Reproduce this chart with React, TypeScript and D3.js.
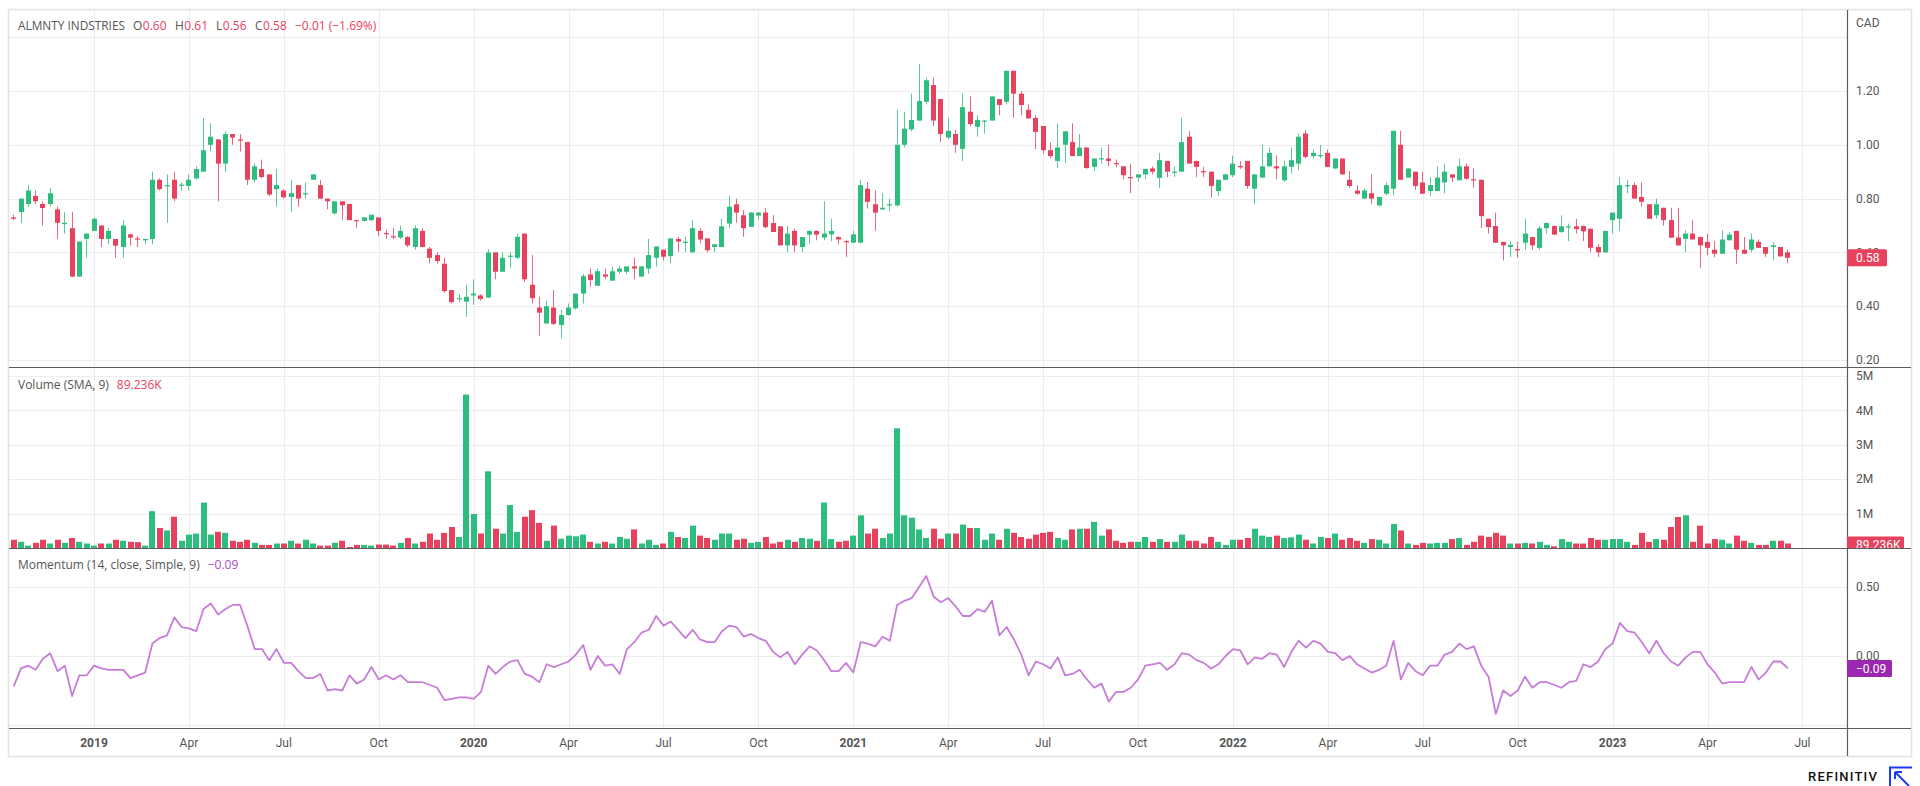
import React, { useEffect, useRef } from 'react';
import * as d3 from 'd3';

// weekly bars, Monday 2018-10-15 onward
const firstWeek = new Date(2018, 9, 15);

const opens = [
  0.73, 0.75, 0.78, 0.81, 0.78, 0.78, 0.76, 0.705, 0.69, 0.51,
  0.65, 0.68, 0.70, 0.65, 0.65, 0.62, 0.667, 0.652, 0.645, 0.65,
  0.87, 0.847, 0.87, 0.848, 0.847, 0.875, 0.90, 1.00, 1.02, 0.93,
  1.04, 1.02, 1.01, 0.87, 0.91, 0.89, 0.835, 0.83, 0.806, 0.85,
  0.817, 0.87, 0.85, 0.80, 0.745, 0.79, 0.78, 0.72, 0.717, 0.72,
  0.73, 0.672, 0.66, 0.655, 0.657, 0.62, 0.68, 0.614, 0.59, 0.558,
  0.46, 0.428, 0.417, 0.44, 0.44, 0.432, 0.60, 0.528, 0.585, 0.58,
  0.67, 0.48, 0.395, 0.336, 0.395, 0.33, 0.367, 0.392, 0.447, 0.518,
  0.476, 0.518, 0.495, 0.528, 0.528, 0.548, 0.51, 0.54, 0.58, 0.61,
  0.586, 0.65, 0.638, 0.60, 0.68, 0.652, 0.62, 0.62, 0.707, 0.779,
  0.738, 0.695, 0.737, 0.748, 0.709, 0.697, 0.626, 0.68, 0.62, 0.666,
  0.68, 0.655, 0.667, 0.657, 0.642, 0.636, 0.636, 0.837, 0.779, 0.76,
  0.776, 0.775, 1.00, 1.057, 1.09, 1.16, 1.222, 1.17, 1.027, 1.04,
  0.985, 1.123, 1.067, 1.088, 1.09, 1.17, 1.16, 1.275, 1.19, 1.13,
  1.10, 1.07, 0.98, 0.94, 1.00, 1.01, 0.958, 0.99, 0.918, 0.948,
  0.949, 0.932, 0.92, 0.88, 0.878, 0.89, 0.912, 0.877, 0.94, 0.898,
  0.90, 1.03, 0.94, 0.902, 0.90, 0.828, 0.87, 0.887, 0.921, 0.94,
  0.837, 0.878, 0.92, 0.92, 0.868, 0.918, 0.93, 1.042, 0.958, 0.958,
  0.97, 0.912, 0.949, 0.87, 0.83, 0.80, 0.82, 0.775, 0.818, 0.837,
  1.00, 0.878, 0.90, 0.86, 0.828, 0.828, 0.86, 0.89, 0.868, 0.92,
  0.872, 0.87, 0.725, 0.698, 0.639, 0.62, 0.612, 0.636, 0.657, 0.617,
  0.69, 0.698, 0.676, 0.694, 0.697, 0.698, 0.688, 0.62, 0.60, 0.72,
  0.725, 0.848, 0.85, 0.806, 0.779, 0.738, 0.766, 0.72, 0.655, 0.65,
  0.67, 0.657, 0.639, 0.61, 0.595, 0.645, 0.68, 0.61, 0.61, 0.639,
  0.62, 0.62, 0.62, 0.60,
];

const highs = [
  0.74, 0.80, 0.85, 0.83, 0.79, 0.84, 0.77, 0.75, 0.75, 0.64,
  0.67, 0.73, 0.70, 0.69, 0.65, 0.72, 0.67, 0.66, 0.65, 0.90,
  0.875, 0.89, 0.90, 0.86, 0.89, 0.92, 1.10, 1.08, 1.02, 1.05,
  1.04, 1.04, 1.01, 0.93, 0.945, 0.89, 0.91, 0.835, 0.87, 0.85,
  0.86, 0.89, 0.87, 0.80, 0.79, 0.79, 0.78, 0.72, 0.73, 0.74,
  0.73, 0.685, 0.69, 0.70, 0.66, 0.70, 0.69, 0.62, 0.60, 0.58,
  0.46, 0.445, 0.48, 0.50, 0.445, 0.612, 0.60, 0.60, 0.60, 0.67,
  0.67, 0.59, 0.435, 0.42, 0.46, 0.386, 0.41, 0.447, 0.52, 0.54,
  0.54, 0.54, 0.547, 0.55, 0.548, 0.58, 0.548, 0.65, 0.622, 0.61,
  0.652, 0.658, 0.658, 0.72, 0.69, 0.652, 0.63, 0.726, 0.81, 0.80,
  0.757, 0.75, 0.75, 0.766, 0.738, 0.697, 0.698, 0.688, 0.657, 0.682,
  0.682, 0.79, 0.725, 0.66, 0.645, 0.68, 0.87, 0.862, 0.83, 0.82,
  0.80, 1.13, 1.123, 1.19, 1.30, 1.25, 1.25, 1.17, 1.10, 1.055,
  1.19, 1.18, 1.11, 1.092, 1.18, 1.17, 1.275, 1.275, 1.20, 1.15,
  1.11, 1.07, 1.01, 1.08, 1.05, 1.08, 1.04, 0.99, 0.95, 0.99,
  1.00, 0.945, 0.92, 0.93, 0.89, 0.91, 0.92, 0.97, 0.94, 0.92,
  1.10, 1.05, 0.94, 0.918, 0.90, 0.87, 0.89, 0.96, 0.94, 0.94,
  0.89, 1.00, 0.99, 0.96, 0.94, 0.99, 1.042, 1.055, 0.983, 1.00,
  0.983, 0.949, 0.949, 0.903, 0.85, 0.837, 0.89, 0.806, 0.86, 1.052,
  1.052, 0.912, 0.90, 0.90, 0.88, 0.92, 0.93, 0.89, 0.949, 0.93,
  0.912, 0.87, 0.725, 0.748, 0.64, 0.642, 0.64, 0.725, 0.657, 0.698,
  0.712, 0.70, 0.738, 0.707, 0.725, 0.70, 0.688, 0.63, 0.68, 0.748,
  0.88, 0.87, 0.86, 0.86, 0.779, 0.80, 0.766, 0.766, 0.766, 0.682,
  0.72, 0.657, 0.67, 0.642, 0.682, 0.676, 0.68, 0.657, 0.67, 0.648,
  0.62, 0.638, 0.62, 0.61,
];

const lows = [
  0.72, 0.71, 0.77, 0.78, 0.70, 0.77, 0.65, 0.67, 0.51, 0.51,
  0.58, 0.68, 0.62, 0.63, 0.58, 0.58, 0.625, 0.62, 0.63, 0.63,
  0.83, 0.71, 0.79, 0.83, 0.83, 0.87, 0.90, 0.975, 0.79, 0.90,
  1.00, 0.975, 0.85, 0.86, 0.875, 0.81, 0.77, 0.80, 0.75, 0.77,
  0.80, 0.87, 0.80, 0.76, 0.74, 0.72, 0.72, 0.69, 0.715, 0.715,
  0.66, 0.65, 0.65, 0.65, 0.62, 0.61, 0.62, 0.56, 0.558, 0.45,
  0.41, 0.415, 0.36, 0.405, 0.42, 0.43, 0.50, 0.528, 0.543, 0.575,
  0.49, 0.41, 0.29, 0.333, 0.33, 0.28, 0.365, 0.388, 0.41, 0.472,
  0.476, 0.50, 0.495, 0.52, 0.52, 0.50, 0.51, 0.52, 0.547, 0.57,
  0.56, 0.602, 0.60, 0.60, 0.633, 0.60, 0.60, 0.62, 0.69, 0.71,
  0.658, 0.695, 0.72, 0.69, 0.676, 0.626, 0.60, 0.60, 0.60, 0.632,
  0.645, 0.645, 0.642, 0.63, 0.583, 0.636, 0.636, 0.763, 0.68, 0.758,
  0.753, 0.77, 0.99, 1.05, 1.09, 1.15, 1.07, 1.01, 1.02, 0.97,
  0.94, 1.07, 1.03, 1.042, 1.09, 1.11, 1.15, 1.10, 1.11, 1.098,
  0.984, 0.967, 0.95, 0.914, 0.933, 0.958, 0.958, 0.91, 0.903, 0.93,
  0.92, 0.917, 0.872, 0.82, 0.862, 0.872, 0.89, 0.84, 0.88, 0.88,
  0.90, 0.93, 0.88, 0.88, 0.804, 0.81, 0.868, 0.88, 0.91, 0.837,
  0.78, 0.878, 0.92, 0.872, 0.862, 0.893, 0.906, 0.95, 0.95, 0.95,
  0.918, 0.91, 0.89, 0.84, 0.815, 0.80, 0.78, 0.77, 0.812, 0.812,
  0.87, 0.878, 0.833, 0.818, 0.81, 0.828, 0.82, 0.862, 0.868, 0.87,
  0.84, 0.69, 0.67, 0.636, 0.57, 0.583, 0.58, 0.61, 0.61, 0.61,
  0.67, 0.666, 0.672, 0.642, 0.67, 0.642, 0.60, 0.583, 0.60, 0.67,
  0.68, 0.82, 0.80, 0.77, 0.725, 0.725, 0.70, 0.655, 0.626, 0.60,
  0.648, 0.543, 0.59, 0.582, 0.595, 0.645, 0.557, 0.595, 0.60, 0.617,
  0.583, 0.57, 0.585, 0.56,
];

const closes = [
  0.725, 0.80, 0.83, 0.79, 0.765, 0.82, 0.71, 0.71, 0.51, 0.64,
  0.67, 0.725, 0.65, 0.68, 0.625, 0.70, 0.655, 0.648, 0.65, 0.87,
  0.835, 0.85, 0.80, 0.852, 0.87, 0.91, 0.98, 1.03, 0.93, 1.04,
  1.027, 1.017, 0.87, 0.92, 0.88, 0.815, 0.85, 0.805, 0.82, 0.80,
  0.82, 0.89, 0.80, 0.79, 0.79, 0.775, 0.72, 0.717, 0.73, 0.74,
  0.68, 0.668, 0.657, 0.68, 0.626, 0.69, 0.62, 0.58, 0.568, 0.456,
  0.415, 0.43, 0.435, 0.447, 0.427, 0.60, 0.528, 0.58, 0.588, 0.658,
  0.50, 0.43, 0.376, 0.40, 0.334, 0.367, 0.395, 0.447, 0.512, 0.497,
  0.53, 0.51, 0.53, 0.54, 0.548, 0.54, 0.548, 0.59, 0.622, 0.584,
  0.652, 0.64, 0.64, 0.69, 0.648, 0.608, 0.63, 0.697, 0.77, 0.748,
  0.69, 0.748, 0.748, 0.694, 0.676, 0.626, 0.67, 0.626, 0.657, 0.68,
  0.666, 0.67, 0.68, 0.648, 0.638, 0.667, 0.85, 0.788, 0.748, 0.766,
  0.779, 1.00, 1.06, 1.092, 1.163, 1.24, 1.09, 1.04, 1.052, 1.00,
  1.14, 1.077, 1.092, 1.09, 1.18, 1.148, 1.275, 1.19, 1.148, 1.098,
  1.048, 0.98, 0.958, 0.99, 1.05, 0.958, 0.99, 0.914, 0.949, 0.95,
  0.94, 0.928, 0.887, 0.877, 0.89, 0.91, 0.90, 0.943, 0.90, 0.90,
  1.01, 0.93, 0.918, 0.898, 0.847, 0.87, 0.89, 0.93, 0.918, 0.847,
  0.89, 0.92, 0.97, 0.912, 0.92, 0.943, 1.03, 0.955, 0.97, 0.962,
  0.918, 0.949, 0.89, 0.847, 0.818, 0.83, 0.80, 0.806, 0.85, 1.052,
  0.87, 0.912, 0.847, 0.818, 0.85, 0.878, 0.90, 0.878, 0.92, 0.874,
  0.868, 0.735, 0.694, 0.636, 0.626, 0.628, 0.608, 0.67, 0.626, 0.69,
  0.709, 0.666, 0.697, 0.697, 0.687, 0.678, 0.617, 0.60, 0.68, 0.748,
  0.85, 0.85, 0.80, 0.788, 0.725, 0.779, 0.72, 0.655, 0.626, 0.67,
  0.648, 0.626, 0.617, 0.595, 0.648, 0.666, 0.61, 0.595, 0.648, 0.617,
  0.595, 0.626, 0.585, 0.58,
];

// weekly volume, millions of shares
const volumes = [
  0.24, 0.18, 0.07, 0.15, 0.24, 0.13, 0.24, 0.15, 0.29, 0.18,
  0.13, 0.07, 0.13, 0.13, 0.24, 0.21, 0.18, 0.17, 0.07, 1.07,
  0.58, 0.51, 0.91, 0.21, 0.39, 0.42, 1.32, 0.39, 0.47, 0.44,
  0.21, 0.18, 0.24, 0.15, 0.09, 0.09, 0.13, 0.13, 0.21, 0.13,
  0.24, 0.13, 0.07, 0.07, 0.15, 0.21, 0.03, 0.09, 0.09, 0.07,
  0.10, 0.10, 0.07, 0.15, 0.29, 0.13, 0.18, 0.42, 0.24, 0.44,
  0.61, 0.32, 4.46, 0.99, 0.42, 2.23, 0.56, 0.42, 1.25, 0.47,
  0.91, 1.10, 0.73, 0.21, 0.65, 0.27, 0.36, 0.34, 0.39, 0.18,
  0.13, 0.18, 0.13, 0.32, 0.27, 0.54, 0.13, 0.24, 0.09, 0.13,
  0.47, 0.32, 0.29, 0.65, 0.36, 0.29, 0.24, 0.42, 0.42, 0.24,
  0.27, 0.15, 0.18, 0.32, 0.13, 0.18, 0.24, 0.18, 0.29, 0.27,
  0.21, 1.32, 0.26, 0.18, 0.21, 0.36, 0.95, 0.42, 0.56, 0.29,
  0.42, 3.48, 0.95, 0.88, 0.54, 0.29, 0.56, 0.27, 0.42, 0.42,
  0.68, 0.58, 0.58, 0.24, 0.42, 0.24, 0.56, 0.44, 0.32, 0.27,
  0.39, 0.44, 0.47, 0.29, 0.24, 0.54, 0.56, 0.56, 0.76, 0.36,
  0.54, 0.21, 0.15, 0.18, 0.18, 0.32, 0.18, 0.26, 0.18, 0.18,
  0.39, 0.21, 0.21, 0.13, 0.32, 0.18, 0.09, 0.24, 0.24, 0.29,
  0.56, 0.36, 0.32, 0.36, 0.29, 0.31, 0.39, 0.24, 0.13, 0.32,
  0.29, 0.42, 0.24, 0.29, 0.21, 0.15, 0.26, 0.24, 0.13, 0.70,
  0.51, 0.13, 0.09, 0.15, 0.13, 0.15, 0.15, 0.26, 0.29, 0.09,
  0.18, 0.36, 0.32, 0.44, 0.36, 0.13, 0.13, 0.15, 0.13, 0.18,
  0.09, 0.05, 0.26, 0.18, 0.13, 0.13, 0.29, 0.24, 0.24, 0.26,
  0.26, 0.18, 0.09, 0.44, 0.18, 0.26, 0.24, 0.61, 0.90, 0.95,
  0.18, 0.65, 0.13, 0.26, 0.24, 0.13, 0.36, 0.21, 0.15, 0.09,
  0.09, 0.21, 0.21, 0.13,
];

const momentum = [
  -0.22, -0.09, -0.07, -0.10, -0.02, 0.02, -0.11, -0.07, -0.29, -0.14,
  -0.14, -0.07, -0.09, -0.10, -0.10, -0.10, -0.16, -0.14, -0.12, 0.09,
  0.13, 0.15, 0.28, 0.21, 0.20, 0.18, 0.34, 0.38, 0.30, 0.34,
  0.37, 0.37, 0.22, 0.05, 0.05, -0.03, 0.05, -0.05, -0.05, -0.11,
  -0.16, -0.16, -0.13, -0.25, -0.24, -0.25, -0.14, -0.20, -0.17, -0.08,
  -0.17, -0.14, -0.17, -0.14, -0.19, -0.19, -0.19, -0.21, -0.23, -0.32,
  -0.31, -0.30, -0.30, -0.31, -0.26, -0.07, -0.13, -0.08, -0.04, -0.03,
  -0.13, -0.15, -0.19, -0.06, -0.08, -0.06, -0.04, 0.01, 0.08, -0.10,
  0.00, -0.07, -0.06, -0.13, 0.05, 0.10, 0.17, 0.19, 0.29, 0.22,
  0.25, 0.19, 0.13, 0.19, 0.12, 0.10, 0.10, 0.18, 0.22, 0.21,
  0.14, 0.16, 0.13, 0.11, 0.03, -0.01, 0.03, -0.06, 0.01, 0.07,
  0.04, -0.03, -0.11, -0.11, -0.05, -0.12, 0.10, 0.09, 0.07, 0.14,
  0.11, 0.37, 0.40, 0.42, 0.50, 0.58, 0.43, 0.39, 0.42, 0.36,
  0.29, 0.29, 0.34, 0.32, 0.40, 0.15, 0.21, 0.12, 0.01, -0.14,
  -0.04, -0.06, -0.09, -0.01, -0.14, -0.13, -0.10, -0.17, -0.23, -0.20,
  -0.33, -0.26, -0.26, -0.23, -0.17, -0.07, -0.06, -0.05, -0.10, -0.06,
  0.02, 0.01, -0.03, -0.05, -0.09, -0.06, 0.00, 0.05, 0.04, -0.06,
  -0.01, -0.02, 0.02, 0.01, -0.08, 0.03, 0.11, 0.06, 0.11, 0.09,
  0.03, 0.02, -0.03, 0.00, -0.06, -0.09, -0.12, -0.10, -0.07, 0.11,
  -0.17, -0.05, -0.11, -0.14, -0.07, -0.07, 0.01, 0.03, 0.09, 0.05,
  0.07, -0.07, -0.15, -0.42, -0.25, -0.29, -0.25, -0.15, -0.23, -0.19,
  -0.19, -0.21, -0.23, -0.19, -0.18, -0.06, -0.08, -0.04, 0.05, 0.09,
  0.24, 0.18, 0.17, 0.10, 0.02, 0.11, 0.02, -0.04, -0.07, -0.01,
  0.03, 0.03, -0.06, -0.12, -0.20, -0.19, -0.19, -0.19, -0.08, -0.17,
  -0.12, -0.04, -0.04, -0.09,
];

const priceTicks = [0.2, 0.4, 0.6, 0.8, 1.0, 1.2];
const priceGrid = [0.2, 0.4, 0.6, 0.8, 1.0, 1.2, 1.4];
const volumeTicks = [1, 2, 3, 4, 5];
const momentumTicks = [0.5, 0];
const momentumGrid = [0.5, 0, -0.5];

const UP = '#2dbd7e';
const DOWN = '#e8415e';
const MOM = '#c77dd8';
const MOM_BOX = '#9c27b0';
const GRID = '#ededed';
const SEP = '#5d5d5d';
const TEXT = '#555';
const FONT = 'Roboto, "Open Sans", sans-serif';
const LEGEND_FONT = '"Open Sans", Roboto, sans-serif';

const App: React.FC = () => {
  const svgRef = useRef<SVGSVGElement>(null);

  useEffect(() => {
    if (!svgRef.current) return;
    const W = 1920;
    const H = 786;
    const left = 9;
    const right = 1847;
    const frameRight = 1911;
    const top = 10;
    const priceBottom = 367;
    const volTop = 368;
    const volBottom = 548;
    const momTop = 549;
    const momBottom = 728;
    const axisBottom = 756;

    const svg = d3.select(svgRef.current);
    svg.selectAll('*').remove();
    svg.attr('width', W).attr('height', H).style('font-family', FONT);

    svg.append('rect').attr('width', W).attr('height', H).attr('fill', '#fff');

    const n = opens.length;
    const weeks = d3.timeMonday.range(firstWeek, d3.timeMonday.offset(firstWeek, n));

    // bar index scale (bars are evenly spaced like on a trading chart)
    const x = d3.scaleLinear().domain([-0.644, 251.1]).range([left, right]);
    const yPrice = d3.scaleLinear().domain([0.2, 1.4]).range([360, 37.2]);
    const yVol = d3.scaleLinear().domain([0, 5]).range([volBottom, 376]);
    const yMom = d3.scaleLinear().domain([-0.5, 0.5]).range([725, 587]);

    const quarters = d3.timeMonth.every(3)!.range(new Date(2019, 0, 1), new Date(2023, 7, 1));
    const qIndex = quarters.map((q) => d3.timeMonday.count(firstWeek, d3.timeMonday.floor(q)));

    const defs = svg.append('defs');
    const clip = (id: string, y0: number, y1: number) =>
      defs.append('clipPath').attr('id', id).append('rect')
        .attr('x', left).attr('y', y0).attr('width', right - left).attr('height', y1 - y0);
    clip('clip-price', top, priceBottom);
    clip('clip-vol', volTop, volBottom);
    clip('clip-mom', momTop, momBottom);
    defs.append('clipPath').attr('id', 'clip-volaxis').append('rect')
      .attr('x', right).attr('y', volTop).attr('width', frameRight - right).attr('height', volBottom - volTop);

    // grid
    const grid = svg.append('g').attr('stroke', GRID).attr('stroke-width', 1);
    qIndex.forEach((qi) => {
      const gx = Math.round(x(qi)) + 0.5;
      grid.append('line').attr('x1', gx).attr('x2', gx).attr('y1', top).attr('y2', momBottom);
    });
    priceGrid.forEach((p) => {
      const gy = Math.round(yPrice(p)) + 0.5;
      grid.append('line').attr('x1', left).attr('x2', right).attr('y1', gy).attr('y2', gy);
    });
    volumeTicks.forEach((v) => {
      const gy = Math.round(yVol(v)) + 0.5;
      grid.append('line').attr('x1', left).attr('x2', right).attr('y1', gy).attr('y2', gy);
    });
    momentumGrid.forEach((m) => {
      const gy = Math.round(yMom(m)) + 0.5;
      grid.append('line').attr('x1', left).attr('x2', right).attr('y1', gy).attr('y2', gy);
    });

    // candles
    const candles = svg.append('g').attr('clip-path', 'url(#clip-price)');
    weeks.forEach((_, i) => {
      const o = opens[i], h = highs[i], l = lows[i], c = closes[i];
      const col = c >= o ? UP : DOWN;
      const bx = Math.round(x(i) - 2.5);
      candles.append('line')
        .attr('x1', bx + 2.5).attr('x2', bx + 2.5)
        .attr('y1', yPrice(h)).attr('y2', yPrice(l))
        .attr('stroke', col).attr('stroke-width', 1).attr('opacity', 0.8);
      const y0 = yPrice(Math.max(o, c));
      const y1 = yPrice(Math.min(o, c));
      candles.append('rect')
        .attr('x', bx).attr('width', 5)
        .attr('y', y0).attr('height', Math.max(1.2, y1 - y0))
        .attr('fill', col);
    });

    // volume
    const vol = svg.append('g').attr('clip-path', 'url(#clip-vol)');
    volumes.forEach((v, i) => {
      const col = closes[i] >= opens[i] ? UP : DOWN;
      const bx = Math.round(x(i) - 3);
      vol.append('rect')
        .attr('x', bx).attr('width', 6)
        .attr('y', yVol(v)).attr('height', volBottom - yVol(v))
        .attr('fill', col);
    });

    // momentum
    const line = d3.line<number>().x((_, i) => x(i)).y((d) => yMom(d));
    svg.append('g').attr('clip-path', 'url(#clip-mom)')
      .append('path').datum(momentum)
      .attr('d', line)
      .attr('fill', 'none').attr('stroke', MOM).attr('stroke-width', 1.8)
      .attr('stroke-linejoin', 'round');

    // frame and separators
    svg.append('rect')
      .attr('x', left - 0.5).attr('y', top - 0.5)
      .attr('width', frameRight - left + 1).attr('height', axisBottom - top + 1)
      .attr('fill', 'none').attr('stroke', '#e3e3e3').attr('stroke-width', 1.5);
    const sep = svg.append('g').attr('stroke', SEP).attr('stroke-width', 1.2);
    [priceBottom, volBottom, momBottom].forEach((sy) => {
      sep.append('line').attr('x1', left).attr('x2', frameRight).attr('y1', sy + 0.5).attr('y2', sy + 0.5);
    });
    sep.append('line').attr('x1', right + 0.5).attr('x2', right + 0.5).attr('y1', top).attr('y2', axisBottom);

    // right axis labels
    const axis = svg.append('g').attr('fill', TEXT).attr('font-size', 12);
    const lx = 1856;
    axis.append('text').attr('x', lx).attr('y', 23).attr('dy', '0.35em').text('CAD');
    priceTicks.forEach((p) => {
      axis.append('text').attr('x', lx).attr('y', yPrice(p)).attr('dy', '0.35em').text(d3.format('.2f')(p));
    });
    volumeTicks.forEach((v) => {
      axis.append('text').attr('x', lx).attr('y', yVol(v)).attr('dy', '0.35em').text(`${v}M`);
    });
    momentumTicks.forEach((m) => {
      axis.append('text').attr('x', lx).attr('y', yMom(m)).attr('dy', '0.35em').text(d3.format('.2f')(m));
    });

    // last value boxes
    const last = n - 1;
    const lastClose = closes[last];
    const pY = yPrice(lastClose);
    svg.append('rect').attr('x', right).attr('y', pY - 8.5).attr('width', 40).attr('height', 17)
      .attr('rx', 1.5).attr('fill', DOWN);
    svg.append('text').attr('x', lx).attr('y', pY).attr('dy', '0.35em')
      .attr('fill', '#fff').attr('font-size', 12).text(d3.format('.2f')(lastClose));

    const smaVol = 0.089236;
    const vY = yVol(smaVol);
    const vg = svg.append('g').attr('clip-path', 'url(#clip-volaxis)');
    vg.append('rect').attr('x', right).attr('y', vY - 8.5).attr('width', 57).attr('height', 17)
      .attr('rx', 1.5).attr('fill', DOWN);
    vg.append('text').attr('x', lx).attr('y', vY).attr('dy', '0.35em')
      .attr('fill', '#fff').attr('font-size', 12).text('89.236K');

    const lastMom = momentum[last];
    const mY = yMom(lastMom);
    svg.append('rect').attr('x', right).attr('y', mY - 8.5).attr('width', 45).attr('height', 17)
      .attr('rx', 1.5).attr('fill', MOM_BOX);
    svg.append('text').attr('x', lx).attr('y', mY).attr('dy', '0.35em')
      .attr('fill', '#fff').attr('font-size', 12).text(`\u2212${d3.format('.2f')(-lastMom)}`);

    // time axis
    const timeAxis = svg.append('g').attr('fill', TEXT).attr('font-size', 12).attr('text-anchor', 'middle');
    quarters.forEach((q, k) => {
      const isYear = q.getMonth() === 0;
      timeAxis.append('text')
        .attr('x', x(qIndex[k])).attr('y', 743).attr('dy', '0.35em')
        .attr('font-weight', isYear ? 'bold' : 'normal')
        .text(isYear ? d3.timeFormat('%Y')(q) : d3.timeFormat('%b')(q));
    });

    // legends
    const legendText = (px: number, y: number, s: string, col: string) =>
      svg.append('text').attr('x', px).attr('y', y).attr('dy', '0.35em')
        .attr('font-family', LEGEND_FONT).attr('font-size', 12).attr('fill', col).text(s);
    const legend = (y: number, parts: [string, string][], gap: number) => {
      let px = 18;
      parts.forEach(([s, col], k) => {
        const t = legendText(px, y, s, col);
        const w = (t.node() as SVGTextElement).getComputedTextLength();
        px += w + (k % 2 === 1 || k === 0 ? gap : 0.5);
      });
    };
    const chg = closes[last] - closes[last - 1];
    legendText(18, 26, 'ALMNTY INDSTRIES', TEXT).attr('textLength', 107).attr('lengthAdjust', 'spacingAndGlyphs');
    const ohlc: [string, number, number][] = [
      ['O', opens[last], 133],
      ['H', highs[last], 175],
      ['L', lows[last], 216],
      ['C', lastClose, 255],
    ];
    ohlc.forEach(([k, v, px]) => {
      const t = legendText(px, 26, k, TEXT);
      const w = (t.node() as SVGTextElement).getComputedTextLength();
      legendText(px + w + 0.5, 26, v.toFixed(2), DOWN);
    });
    legendText(295, 26, `\u2212${Math.abs(chg).toFixed(2)} (\u22121.69%)`, DOWN);
    legend(385, [['Volume (SMA, 9)', TEXT], ['89.236K', DOWN]], 8);
    legend(565, [['Momentum (14, close, Simple, 9)', TEXT], [`\u2212${(-lastMom).toFixed(2)}`, '#b04ac8']], 8);

    // footer mark
    svg.append('text').attr('x', 1878).attr('y', 776).attr('dy', '0.35em')
      .attr('text-anchor', 'end').attr('font-size', 13).attr('font-weight', 500)
      .attr('letter-spacing', 1.2).attr('fill', '#111').text('REFINITIV');
    const logo = svg.append('g').attr('stroke', '#1a3cff').attr('stroke-width', 2).attr('fill', 'none');
    logo.append('path').attr('d', 'M1890,786 L1890,767.5 L1912,767.5');
    logo.append('path').attr('d', 'M1895,772 L1909,786 M1895,772 L1895,779 M1895,772 L1902,772');
  }, []);

  return (
    <div style={{ position: 'absolute', left: 0, top: 0 }}>
      <svg ref={svgRef} style={{ display: 'block' }} />
    </div>
  );
};

export default App;
